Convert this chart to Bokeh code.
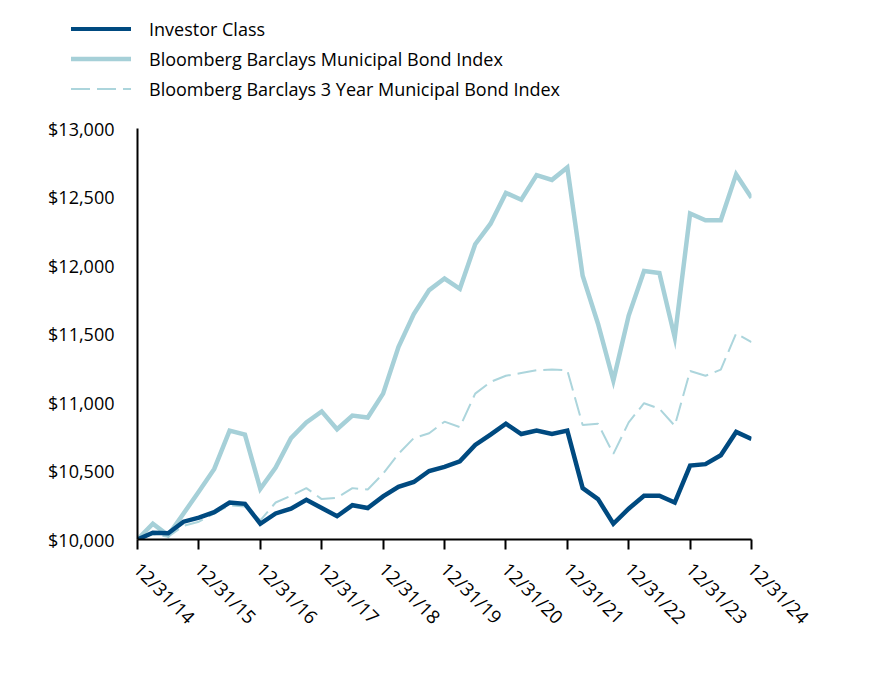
import math
from bokeh.plotting import figure
from bokeh.layouts import column
from bokeh.models import (Range1d, FixedTicker, NumeralTickFormatter, Label, Div)
from bokeh.embed import file_html
from bokeh.resources import INLINE

# Quarter-end dates, 12/31/14 .. 12/31/24
quarters = list(range(41))
year_ticks = [0, 4, 8, 12, 16, 20, 24, 28, 32, 36, 40]
tick_labels = ["12/31/14", "12/31/15", "12/31/16", "12/31/17", "12/31/18", "12/31/19",
               "12/31/20", "12/31/21", "12/31/22", "12/31/23", "12/31/24"]

investor_class = [10000, 10050, 10045, 10130, 10160, 10200, 10270, 10260, 10115, 10190,
                  10225, 10290, 10230, 10170, 10250, 10230, 10315, 10385, 10420, 10500,
                  10530, 10570, 10690, 10765, 10845, 10770, 10795, 10770, 10795, 10375,
                  10295, 10115, 10225, 10320, 10320, 10270, 10540, 10550, 10615, 10785,
                  10733]

muni_index = [10000, 10115, 10030, 10190, 10350, 10515, 10795, 10765, 10370, 10525,
              10740, 10855, 10935, 10805, 10905, 10890, 11065, 11405, 11645, 11820,
              11905, 11830, 12155, 12305, 12530, 12480, 12660, 12625, 12715, 11925,
              11575, 11160, 11635, 11960, 11945, 11475, 12380, 12330, 12330, 12665,
              12494]

muni_3yr_index = [10000, 10040, 10020, 10100, 10130, 10190, 10250, 10240, 10140, 10270,
                  10320, 10375, 10295, 10305, 10375, 10365, 10480, 10625, 10740, 10775,
                  10860, 10820, 11065, 11150, 11195, 11215, 11235, 11240, 11235, 10835,
                  10845, 10625, 10855, 10995, 10955, 10830, 11230, 11195, 11240, 11505,
                  11440]

series_names = ["Investor Class", "Bloomberg Barclays Municipal Bond Index",
                "Bloomberg Barclays 3 Year Municipal Bond Index"]
end_labels = ["$10,733", "$12,494", "$11,440"]

DARK = "#004a80"
LIGHT = "#a6d0d8"
LIGHT_DASH = "#acd5dc"
FONT = "Open Sans"
DASH = "19 7"
series_styles = [(DARK, 4, ""), (LIGHT, 4.5, ""), (LIGHT_DASH, 2, DASH)]

W = 872
LEG_H = 110
MAIN_H = 570

# ---- legend strip (HTML) ----
rows = []
for i, (name, (col, lw, dash)) in enumerate(zip(series_names, series_styles)):
    cy = 29 + 30 * i
    dash_attr = f' stroke-dasharray="{dash}"' if dash else ""
    rows.append(
        f'<svg style="position:absolute;left:71px;top:{cy - 5}px" width="60" height="10">'
        f'<line x1="0" y1="5" x2="60" y2="5" stroke="{col}" stroke-width="{lw}"{dash_attr}/></svg>'
        f'<div style="position:absolute;left:149px;top:{cy - 12}px;line-height:24px;'
        f'white-space:nowrap">{name}</div>')
legend_div = Div(text=(f'<div style="position:relative;width:{W}px;height:{LEG_H}px;'
                       f"font-family:'{FONT}';font-size:18px;color:black\">" + "".join(rows) + "</div>"),
                 width=W, height=LEG_H, margin=0)

# ---- main chart ----
p = figure(width=W, height=MAIN_H, output_backend="svg", toolbar_location=None,
           x_range=Range1d(0, 40), y_range=Range1d(10000, 13000),
           min_border_left=137, min_border_right=W - 751, min_border_top=128 - LEG_H,
           min_border_bottom=LEG_H + MAIN_H - 539, margin=0)
p.outline_line_color = None
p.xgrid.grid_line_color = None
p.ygrid.grid_line_color = None

p.line(quarters, muni_3yr_index, line_color=LIGHT_DASH, line_width=2, line_dash=DASH)
p.line(quarters, muni_index, line_color=LIGHT, line_width=4.5, line_join="miter")
p.line(quarters, investor_class, line_color=DARK, line_width=4.5, line_join="miter")

xa = p.xaxis[0]
xa.ticker = FixedTicker(ticks=year_ticks)
xa.major_label_overrides = {t: l for t, l in zip(year_ticks, tick_labels)}
xa.major_label_orientation = -math.pi / 4
xa.minor_tick_line_color = None
xa.major_tick_in = 0
xa.major_tick_out = 10
xa.major_tick_line_color = "black"
xa.major_tick_line_width = 2
xa.axis_line_color = "black"
xa.axis_line_width = 2
xa.major_label_text_font = FONT
xa.major_label_text_font_size = "18.5px"
xa.major_label_text_color = "black"
xa.major_label_standoff = 16

ya = p.yaxis[0]
ya.ticker = FixedTicker(ticks=[10000, 10500, 11000, 11500, 12000, 12500, 13000])
ya.formatter = NumeralTickFormatter(format="$0,0")
ya.minor_tick_line_color = None
ya.major_tick_in = 0
ya.major_tick_out = 0
ya.axis_line_color = "black"
ya.axis_line_width = 2
ya.major_label_text_font = FONT
ya.major_label_text_font_size = "18px"
ya.major_label_text_color = "black"
ya.major_label_standoff = 23

for val, txt in zip([investor_class[-1], muni_index[-1], muni_3yr_index[-1]], end_labels):
    p.add_layout(Label(x=quarters[-1], y=val, text=txt, x_offset=12,
                       text_baseline="middle", text_font=FONT,
                       text_font_size="18px", text_color="black"))

layout = column(legend_div, p, spacing=0)
open("out.html", "w").write(file_html(layout, INLINE))
